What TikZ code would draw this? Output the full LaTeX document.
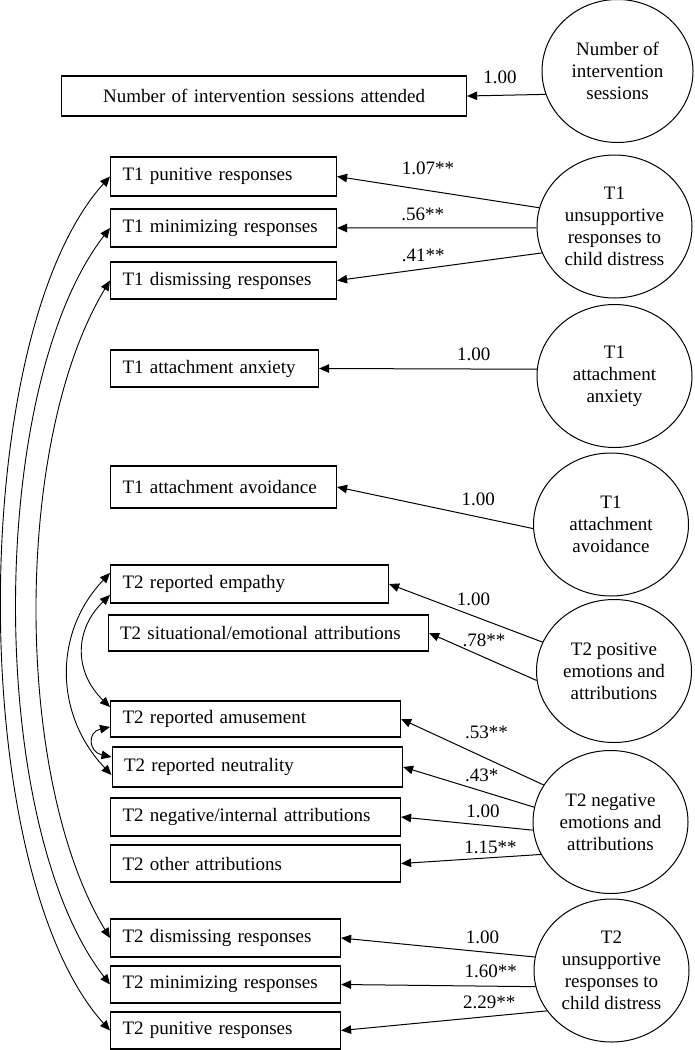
\documentclass[tikz,border=0pt]{standalone}
\usepackage{fontspec}
\setmainfont{Liberation Serif}
\usepackage{tikz}
\usetikzlibrary{arrows.meta}
\usetikzlibrary{shapes.geometric}

\begin{document}
\begin{tikzpicture}[x=1pt,y=-1pt]
  \tikzset{every node/.style = {font=\fontsize{19}{22}\selectfont}}
  \tikzset{latent/.style = {shape=ellipse,draw,line width=1pt,minimum width=155pt,minimum height=143pt,inner sep=0pt,align=center}}
  \tikzset{obs/.style = {shape=rectangle,draw,line width=1.1pt,minimum height=38pt,inner xsep=12pt,inner ysep=0pt,align=left,anchor=west}}
  \tikzset{edge/.style = {-{Triangle[length=10pt,width=8.5pt]},line width=1pt}}
  \tikzset{cov/.style = {{Triangle[length=10pt,width=8.5pt]}-{Triangle[length=10pt,width=8.5pt]},line width=0.9pt}}
  \tikzset{coef/.style = {inner sep=1pt}}

  \useasboundingbox (0,0) rectangle (694,1050);

	\node[obs,text width=381pt,align=center,minimum height=40pt] (NSA) at (61,96) {Number of intervention sessions attended};
	\node[obs,text width=202pt,minimum height=39pt] (T1P) at (110,176.5) {T1 punitive responses};
	\node[obs,text width=202pt] (T1M) at (110,228) {T1 minimizing responses};
	\node[obs,text width=202pt,minimum height=37pt] (T1D) at (110,280.5) {T1 dismissing responses};
	\node[obs,text width=184pt,minimum height=37pt] (T1X) at (110,368.5) {T1 attachment anxiety};
	\node[obs,text width=202pt,minimum height=42pt] (T1V) at (110,487) {T1 attachment avoidance};
	\node[obs,text width=254pt] (T2E) at (110,584) {T2 reported empathy};
	\node[obs,text width=296.5pt,minimum height=36pt] (T2S) at (107.5,633) {T2 situational/emotional attributions};
	\node[obs,text width=266pt,minimum height=36pt] (T2A) at (110,719) {T2 reported amusement};
	\node[obs,text width=266.5pt,minimum height=40pt] (T2N) at (111.5,767) {T2 reported neutrality};
	\node[obs,text width=266pt] (T2G) at (110,817) {T2 negative/internal attributions};
	\node[obs,text width=266pt,minimum height=37pt] (T2O) at (110,863.5) {T2 other attributions};
	\node[obs,text width=206pt] (T2D) at (110,938) {T2 dismissing responses};
	\node[obs,text width=206pt,minimum height=37pt] (T2M) at (110,984.5) {T2 minimizing responses};
	\node[obs,text width=206pt,minimum height=37pt] (T2P) at (110,1030.5) {T2 punitive responses};

	\node[latent,minimum width=151pt] (NIS) at (617.5,71) {Number of\\intervention\\sessions};
	\node[latent] (U1) at (614.5,226.5) {T1\\unsupportive\\responses to\\child distress};
	\node[latent] (ANX) at (614.5,376) {T1\\attachment\\anxiety};
	\node[latent] (AVO) at (611,524.5) {T1\\attachment\\avoidance};
	\node[latent] (POS) at (614,671) {T2 positive\\emotions and\\attributions};
	\node[latent] (NEG) at (610.5,822) {T2 negative\\emotions and\\attributions};
	\node[latent] (U2) at (611.5,970.5) {T2\\unsupportive\\responses to\\child distress};

	\foreach \lat/\ang/\ind/\ps/\sh/\val in {NIS/198/NSA/0.58/10/1.00, U1/166/T1P/0.55/14/1.07**,
	    U1/181/T1M/0.57/6/.56**, U1/200/T1D/0.58/6/.41**, ANX/175/T1X/0.29/6.5/1.00,
	    AVO/183/T1V/0.28/9.5/1.00, POS/158/T2E/0.45/8.5/1.00, POS/187/T2S/0.49/9/.78**,
	    NEG/151/T2A/0.40/18.5/.53**, NEG/169/T2N/0.40/7.5/.43*, NEG/186/T2G/0.38/6/1.00,
	    NEG/205/T2O/0.36/2/1.15**, U2/170/T2D/0.27/7/1.00, U2/192/T2M/0.23/7/1.60**,
	    U2/212/T2P/0.28/6/2.29**}
    \path[edge] (\lat.\ang) edge node[coef,pos=\ps,above=\sh pt] {\val} (\ind.east);

	\draw[cov] (T1P.west) .. controls +(-144,160) and +(-144,-160) .. (T2P.west);
	\draw[cov] (T1M.west) .. controls +(-124,160) and +(-124,-160) .. (T2M.west);
	\draw[cov] (T1D.west) .. controls +(-97,160) and +(-97,-160) .. (T2D.west);
	\draw[cov] ([yshift=11pt]T2E.west) .. controls +(-57,60) and +(-57,-60) .. ([yshift=-8pt]T2N.west);
	\draw[cov] ([yshift=-11pt]T2E.west) .. controls +(-36,35) and +(-36,-35) .. ([yshift=12pt]T2A.west);
	\draw[cov] ([yshift=-8pt]T2A.west) .. controls +(-23,5) and +(-23,-5) .. ([yshift=10pt]T2N.west);
\end{tikzpicture}
\end{document}
